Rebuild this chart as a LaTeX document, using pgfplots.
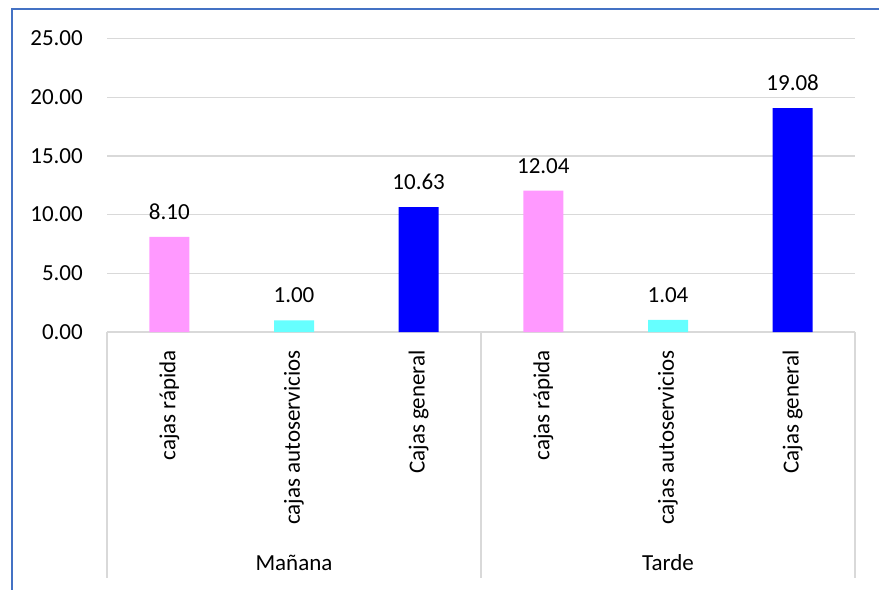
\documentclass[border=0pt]{standalone}
\usepackage{pgfplots}
\pgfplotsset{compat=1.18}
\usepackage{fontspec}
\setmainfont{Carlito}
\definecolor{framec}{HTML}{4472C4}
\definecolor{gridc}{HTML}{D9D9D9}
\definecolor{pinkc}{HTML}{FF99FF}
\definecolor{cyanc}{HTML}{66FFFF}
\definecolor{bluec}{HTML}{0000FF}
\begin{document}
\begin{tikzpicture}[every node/.style={font=\fontsize{23bp}{27bp}\selectfont}]
\useasboundingbox (0,0) rectangle (879bp,-590bp);
\draw[framec, line width=2bp] (12bp,-590bp) -- (12bp,-9bp) -- (879bp,-9bp);
\begin{axis}[
  at={(107bp,-332bp)}, anchor=south west,
  scale only axis, width=748bp, height=293.5bp,
  xmin=-0.5, xmax=5.5, ymin=0, ymax=25,
  enlargelimits=false, clip=false,
  axis x line*=bottom, axis y line*=left,
  x axis line style={draw=gridc, line width=1.2bp, -},
  y axis line style={draw=none},
  major tick length=0pt,
  ytick={0,5,10,15,20,25},
  ymajorgrids, major grid style={draw=gridc, line width=1.2bp},
  /pgf/number format/assume math mode=true,
  yticklabel style={/pgf/number format/.cd, fixed, fixed zerofill, precision=2, /tikz/.cd, anchor=east, inner sep=0pt, xshift=-24bp},
  xtick={0,1,2,3,4,5},
  xticklabels={cajas rápida, cajas autoservicios, Cajas general, cajas rápida, cajas autoservicios, Cajas general},
  xticklabel style={rotate=90, anchor=east, inner sep=0pt},
  xticklabel shift=18bp,
  ybar, bar width=40bp, bar shift=0pt,
  nodes near coords,
  every node near coord/.append style={/pgf/number format/.cd, fixed, fixed zerofill, precision=2, assume math mode=true, /tikz/.cd, anchor=base, inner sep=0pt, yshift=17.5bp, text=black},
]
\addplot[fill=pinkc, draw=none] coordinates {(0,8.10) (3,12.04)};
\addplot[fill=cyanc, draw=none] coordinates {(1,1.00) (4,1.04)};
\addplot[fill=bluec, draw=none] coordinates {(2,10.63) (5,19.08)};
\draw[gridc, line width=1.2bp] (axis cs:-0.5,0) -- ([yshift=-246bp]axis cs:-0.5,0);
\draw[gridc, line width=1.2bp] (axis cs:2.5,0) -- ([yshift=-246bp]axis cs:2.5,0);
\draw[gridc, line width=1.2bp] (axis cs:5.5,0) -- ([yshift=-246bp]axis cs:5.5,0);
\node[anchor=center] at ([yshift=-231bp]axis cs:1,0) {Mañana};
\node[anchor=center] at ([yshift=-231bp]axis cs:4,0) {Tarde};
\end{axis}
\end{tikzpicture}
\end{document}
